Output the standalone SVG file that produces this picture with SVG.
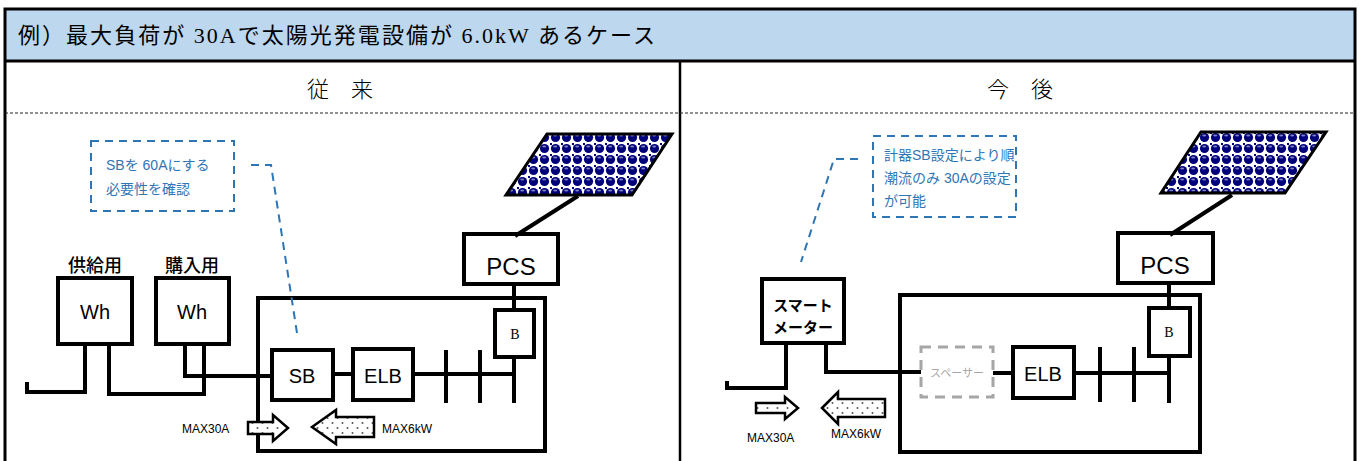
<svg xmlns="http://www.w3.org/2000/svg" width="1360" height="461" viewBox="0 0 1360 461">
<style>
.frame{fill:none;stroke:#000;stroke-width:3}
.box{fill:#fff;stroke:#000;stroke-width:4}
.wire{fill:none;stroke:#000;stroke-width:4;stroke-linejoin:miter}
.call{fill:#fff;stroke:#2E75B6;stroke-width:2;stroke-dasharray:8 6}
.lead{fill:none;stroke:#2E75B6;stroke-width:2;stroke-dasharray:8 6}
.ctext{font-family:"Liberation Sans","Noto Sans CJK JP",sans-serif;font-size:14px;fill:#2E75B6}
.lbl{font-family:"Liberation Sans","Noto Sans CJK JP",sans-serif;fill:#000;text-anchor:middle}
.arrow{fill:url(#dots);stroke:#000;stroke-width:2.5;stroke-linejoin:miter}
.small{font-family:"Liberation Sans",Arial,sans-serif;font-size:12px;fill:#000}
.panel{fill:url(#solar);stroke:#000;stroke-width:3}
</style>
<defs>
<pattern id="solar" patternUnits="userSpaceOnUse" width="11" height="11">
<rect width="11" height="11" fill="#fff"/>
<circle cx="5.5" cy="5.5" r="4.6" fill="#00007a"/>
<rect x="0" y="0" width="2" height="2" fill="#00007a"/>
<ellipse cx="5.2" cy="3.4" rx="2" ry="1" fill="#8080c0"/>
</pattern>
<pattern id="dots" patternUnits="userSpaceOnUse" width="10" height="10">
<rect width="10" height="10" fill="#fff"/>
<circle cx="2.5" cy="3" r="1" fill="#555"/>
<circle cx="7.5" cy="8" r="1" fill="#555"/>
</pattern>
</defs>

<g id="table">
<rect x="5" y="9" width="1350" height="52" fill="#BDD7EE"/>
<path class="frame" d="M5,470 V9 H1355 V470"/>
<line x1="5" y1="61" x2="1355" y2="61" stroke="#000" stroke-width="3"/>
<line x1="680" y1="61" x2="680" y2="470" stroke="#000" stroke-width="2.5"/>
<line x1="5" y1="113" x2="1355" y2="113" stroke="#222" stroke-width="1" stroke-dasharray="3 2"/>
<text x="18" y="43" font-family="'Liberation Serif','Noto Sans CJK JP',serif" font-size="22" textLength="637" lengthAdjust="spacing">例）最大負荷が 30Aで太陽光発電設備が 6.0kW あるケース</text>
<text x="340" y="97" font-family="'Noto Sans CJK JP',sans-serif" font-size="22" text-anchor="middle" font-weight="300">従　来</text>
<text x="1020" y="97" font-family="'Noto Sans CJK JP',sans-serif" font-size="22" text-anchor="middle" font-weight="300">今　後</text>
</g>

<!-- LEFT -->
<g id="left-callout">
<rect class="call" x="91" y="141" width="143" height="70"/>
<text class="ctext" x="106" y="170">SBを 60Aにする</text>
<text class="ctext" x="106" y="194">必要性を確認</text>
</g>
<g id="left-solar">
<polygon class="panel" points="547,134 672,134 632,195 506,195"/>
</g>
<g id="left-pcs">
<rect class="box" x="464" y="234" width="94" height="50"/>
<text class="lbl" x="511" y="275" font-size="24">PCS</text>
</g>
<g id="left-panel">
<rect class="box" x="258" y="298" width="287" height="153" style="fill:none"/>
</g>
<g id="left-wh1">
<text class="lbl" x="95" y="272" font-size="18" font-weight="500">供給用</text>
<rect class="box" x="58" y="278" width="74" height="66"/>
<text class="lbl" x="95" y="319" font-size="20">Wh</text>
</g>
<g id="left-wh2">
<text class="lbl" x="192" y="272" font-size="18" font-weight="500">購入用</text>
<rect class="box" x="156" y="278" width="73" height="66"/>
<text class="lbl" x="192" y="319" font-size="20">Wh</text>
</g>
<g id="left-sb">
<rect class="box" x="272" y="350" width="61" height="50"/>
<text class="lbl" x="302" y="383" font-size="20">SB</text>
</g>
<g id="left-elb">
<rect class="box" x="353" y="349" width="60" height="51"/>
<text class="lbl" x="383" y="383" font-size="20">ELB</text>
</g>
<g id="left-b">
<rect class="box" x="495" y="310" width="39" height="47"/>
<text x="515" y="339" font-size="14" font-family="'Liberation Serif',serif" text-anchor="middle">B</text>
</g>
<g id="left-arrows">
<polygon class="arrow" points="248,422 273,422 273,415 288,428 273,441 273,434 248,434"/>
<polygon class="arrow" points="312,427 336,410 336,417 374,417 374,437 336,437 336,444"/>
<text class="small" x="182" y="433">MAX30A</text>
<text class="small" x="382" y="433">MAX6kW</text>
</g>

<!-- RIGHT -->
<g id="right-callout">
<rect class="call" x="873" y="136" width="143" height="81"/>
<text class="ctext" x="884" y="160">計器SB設定により順</text>
<text class="ctext" x="884" y="183">潮流のみ 30Aの設定</text>
<text class="ctext" x="884" y="206">が可能</text>
</g>
<g id="right-solar">
<polygon class="panel" points="1201,132 1326,132 1285,193 1161,193"/>
</g>
<g id="right-pcs">
<rect class="box" x="1118" y="233" width="95" height="50"/>
<text class="lbl" x="1165" y="274" font-size="24">PCS</text>
</g>
<g id="right-panel">
<rect class="box" x="900" y="295" width="300" height="157" style="fill:none"/>
</g>
<g id="right-meter">
<rect class="box" x="762" y="279" width="82" height="64"/>
<text x="803" y="311" font-size="15" font-weight="bold" font-family="'Noto Sans CJK JP',sans-serif" text-anchor="middle">スマート</text>
<text x="803" y="333" font-size="15" font-weight="bold" font-family="'Noto Sans CJK JP',sans-serif" text-anchor="middle">メーター</text>
</g>
<g id="right-spacer">
<rect x="921" y="347" width="72" height="50" fill="#fff" stroke="#A6A6A6" stroke-width="3" stroke-dasharray="10 7"/>
<text x="957" y="377" font-family="'Noto Sans CJK JP',sans-serif" font-size="11" fill="#A6A6A6" text-anchor="middle">スペーサー</text>
</g>
<g id="right-elb">
<rect class="box" x="1013" y="347" width="61" height="51"/>
<text class="lbl" x="1043" y="381" font-size="20">ELB</text>
</g>
<g id="right-b">
<rect class="box" x="1149" y="308" width="41" height="48"/>
<text x="1169" y="337" font-size="14" font-family="'Liberation Serif',serif" text-anchor="middle">B</text>
</g>
<g id="right-arrows">
<polygon class="arrow" points="756,403 785,403 785,397 798,408 785,419 785,413 756,413"/>
<polygon class="arrow" points="822,408 838,392 838,399 885,399 885,417 838,417 838,424"/>
<text class="small" x="747" y="442">MAX30A</text>
<text class="small" x="831" y="438">MAX6kW</text>
</g>

<g id="connectors">
<path class="lead" d="M251,165 H271 L297,333"/>
<line x1="578" y1="196" x2="515" y2="236" stroke="#000" stroke-width="4"/>
<path class="wire" d="M27,382 V392 H85 V344"/>
<path class="wire" d="M109,344 V394 H204 V344"/>
<path class="wire" d="M185,344 V376 H272"/>
<line class="wire" x1="333" y1="374" x2="353" y2="374"/>
<path class="wire" d="M413,374 H514"/>
<line class="wire" x1="514" y1="284" x2="514" y2="310"/>
<line class="wire" x1="514" y1="357" x2="514" y2="403"/>
<line class="wire" x1="446" y1="350" x2="446" y2="403"/>
<line class="wire" x1="480" y1="350" x2="480" y2="403"/>
<path class="lead" d="M858,159 H834 L801,262"/>
<line x1="1232" y1="195" x2="1170" y2="235" stroke="#000" stroke-width="4"/>
<path class="wire" d="M727,381 V388 H786 V343"/>
<path class="wire" d="M826,343 V372 H921"/>
<line class="wire" x1="993" y1="373" x2="1013" y2="373"/>
<path class="wire" d="M1074,373 H1169"/>
<line class="wire" x1="1169" y1="283" x2="1169" y2="308"/>
<line class="wire" x1="1169" y1="356" x2="1169" y2="403"/>
<line class="wire" x1="1100" y1="347" x2="1100" y2="402"/>
<line class="wire" x1="1134" y1="347" x2="1134" y2="402"/>
</g>
</svg>
